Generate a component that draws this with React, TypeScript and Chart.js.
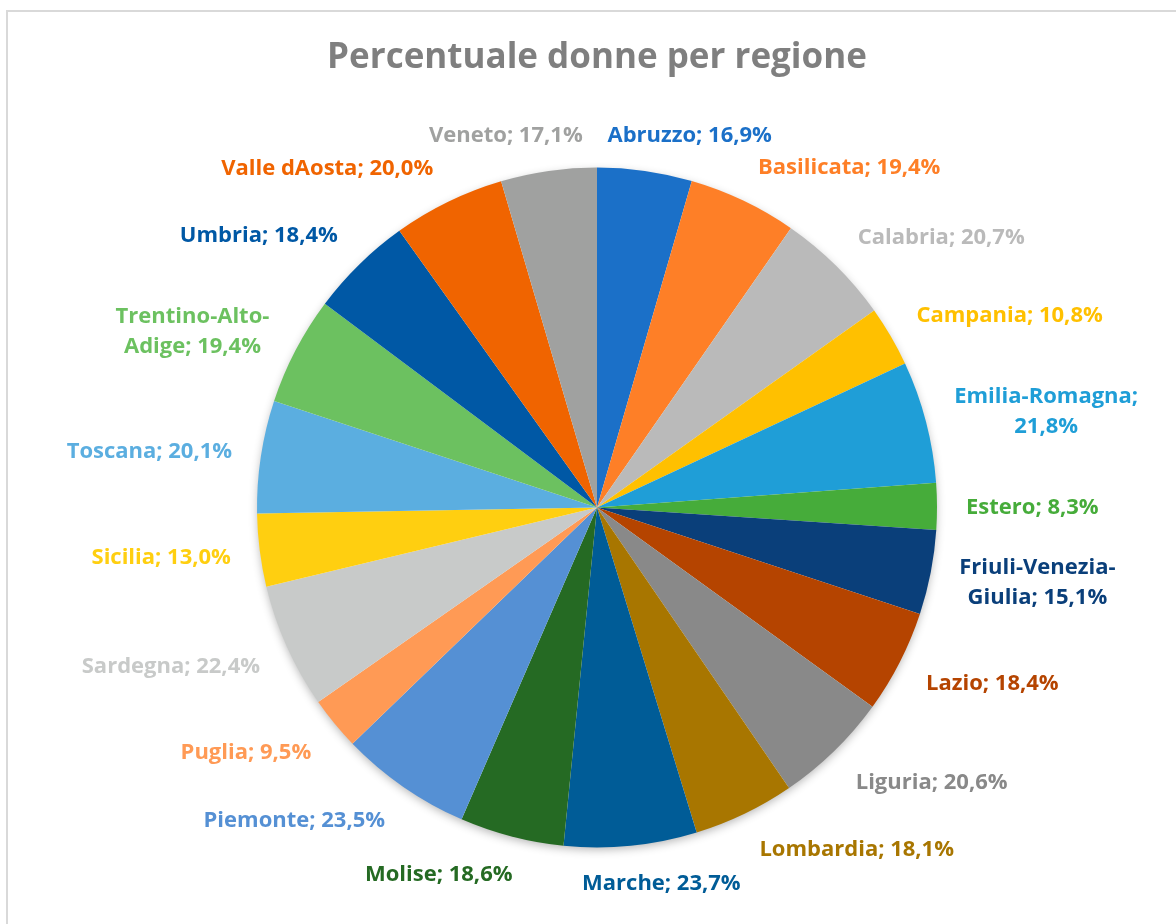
import React, { useEffect, useRef } from "react";
import { Chart, registerables } from "chart.js";

Chart.register(...registerables);

const TITLE = "Percentuale donne per regione";

const regions = [
  "Abruzzo", "Basilicata", "Calabria", "Campania", "Emilia-Romagna", "Estero",
  "Friuli-Venezia-Giulia", "Lazio", "Liguria", "Lombardia", "Marche", "Molise",
  "Piemonte", "Puglia", "Sardegna", "Sicilia", "Toscana", "Trentino-Alto-Adige",
  "Umbria", "Valle dAosta", "Veneto",
];

const values = [
  16.9, 19.4, 20.7, 10.8, 21.8, 8.3, 15.1, 18.4, 20.6, 18.1, 23.7, 18.6,
  23.5, 9.5, 22.4, 13.0, 20.1, 19.4, 18.4, 20.0, 17.1,
];

const sliceColors = [
  "#1B70C8", "#FE7F27", "#BABABA", "#FFC000", "#1F9ED7", "#46AC3A",
  "#0A3F7A", "#B54400", "#898989", "#A87600", "#005C97", "#256A23",
  "#5590D4", "#FF9A55", "#C8CAC9", "#FFCF10", "#5BAEE0", "#6CC160",
  "#0058A5", "#F06400", "#A0A1A0",
];

// first line of labels that wrap onto two lines
const wrapFirstLines: Record<string, string> = {
  "Emilia-Romagna": "Emilia-Romagna;",
  "Friuli-Venezia-Giulia": "Friuli-Venezia-",
  "Trentino-Alto-Adige": "Trentino-Alto-",
};

const LABEL_FONT = "700 22px 'Open Sans'";
const LABEL_LINE_H = 30;
const LABEL_CAP = 15.5;
const LABEL_GAP = 25;
const LABEL_KX = 3.4;
const LABEL_KY = 1.6;
const LABEL_HALF_Y = 12;

const fmt = (v: number) => v.toFixed(1).replace(".", ",");
const clamp = (v: number) => Math.max(-1, Math.min(1, v));

const framePlugin = {
  id: "frame",
  beforeDraw(chart: any) {
    const ctx = chart.ctx;
    ctx.save();
    ctx.fillStyle = "#ffffff";
    ctx.fillRect(0, 0, chart.width, chart.height);
    ctx.strokeStyle = "#D9D9D9";
    ctx.lineWidth = 2;
    ctx.strokeRect(7, 11, chart.width + 20, chart.height + 20);
    ctx.restore();
  },
};

const shadowPlugin = {
  id: "pieShadow",
  beforeDatasetsDraw(chart: any) {
    const arc = chart.getDatasetMeta(0).data[0];
    if (!arc) return;
    const { x, y, outerRadius } = arc.getProps(["x", "y", "outerRadius"], true);
    const ctx = chart.ctx;
    ctx.save();
    ctx.shadowColor = "rgba(0,0,0,0.30)";
    ctx.shadowBlur = 10;
    ctx.shadowOffsetX = 0;
    ctx.shadowOffsetY = 3;
    ctx.fillStyle = "#ffffff";
    ctx.beginPath();
    ctx.arc(x, y, outerRadius - 1, 0, Math.PI * 2);
    ctx.fill();
    ctx.restore();
  },
};

const labelPlugin = {
  id: "outLabels",
  afterDatasetsDraw(chart: any) {
    const ctx = chart.ctx;
    const meta = chart.getDatasetMeta(0);
    const ds = chart.data.datasets[0];
    ctx.save();
    ctx.font = LABEL_FONT;
    ctx.textAlign = "center";
    ctx.textBaseline = "alphabetic";
    meta.data.forEach((arc: any, i: number) => {
      const { x, y, startAngle, endAngle, outerRadius } = arc.getProps(
        ["x", "y", "startAngle", "endAngle", "outerRadius"],
        true
      );
      const mid = (startAngle + endAngle) / 2;
      const c = Math.cos(mid);
      const s = Math.sin(mid);
      const name = chart.data.labels[i] as string;
      const full = `${name}; ${fmt(ds.data[i])}%`;
      const first = wrapFirstLines[name];
      const lines = first ? [first, full.slice(first.length).trim()] : [full];
      const w = Math.max(...lines.map((l) => ctx.measureText(l).width));
      const px = x + (outerRadius + LABEL_GAP) * c;
      const py = y + (outerRadius + LABEL_GAP) * s;
      const cx = px + (w / 2 + 4) * clamp(LABEL_KX * c);
      const cy = py + LABEL_HALF_Y * clamp(LABEL_KY * s);
      ctx.fillStyle = ds.backgroundColor[i];
      lines.forEach((l, j) => {
        ctx.fillText(l, cx, cy + (j - (lines.length - 1) / 2) * LABEL_LINE_H + LABEL_CAP / 2);
      });
    });
    ctx.restore();
  },
};

export default function App() {
  const canvasRef = useRef<HTMLCanvasElement | null>(null);

  useEffect(() => {
    if (!canvasRef.current) return;
    const chart = new Chart(canvasRef.current, {
      type: "pie",
      data: {
        labels: regions,
        datasets: [
          {
            data: values,
            backgroundColor: sliceColors,
            borderWidth: 0,
            hoverOffset: 0,
            offset: 0,
          },
        ],
      },
      options: {
        animation: false,
        responsive: true,
        maintainAspectRatio: false,
        layout: {
          padding: { left: 257, right: 239, top: 0, bottom: 76.5 },
        },
        plugins: {
          legend: { display: false },
          tooltip: { enabled: false },
          title: {
            display: true,
            text: TITLE,
            color: "#7F7F7F",
            font: { family: "'Open Sans'", size: 35, weight: "bold" },
            padding: { top: 37, bottom: 88.5 },
          },
        },
      },
      plugins: [framePlugin, shadowPlugin, labelPlugin],
    });
    return () => chart.destroy();
  }, []);

  return (
    <div style={{ position: "absolute", left: 0, top: 0, width: 1176, height: 924 }}>
      <canvas ref={canvasRef} />
    </div>
  );
}
